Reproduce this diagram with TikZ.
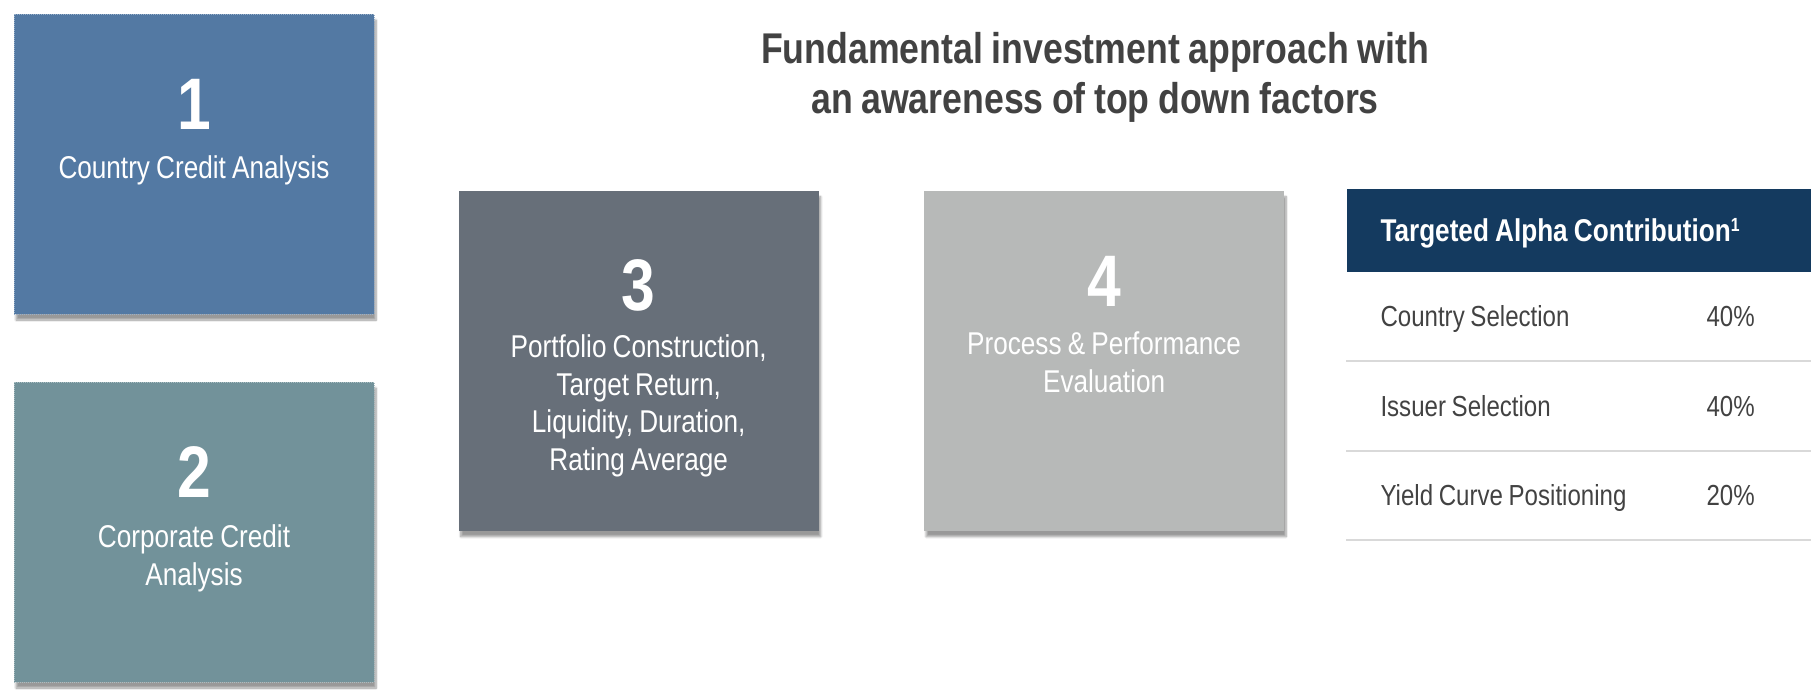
\documentclass[tikz,border=0pt]{standalone}
\usepackage{fontspec}
\setmainfont{Liberation Sans}[FakeStretch=0.83,WordSpace=0.85]
\usepackage{xcolor}
\usetikzlibrary{positioning,shadows.blur}
\definecolor{stblue}{HTML}{5379A3}
\definecolor{stteal}{HTML}{72929A}
\definecolor{stslate}{HTML}{676F79}
\definecolor{stgray}{HTML}{B7B9B8}
\definecolor{hdnavy}{HTML}{143A5F}
\definecolor{inkgray}{HTML}{424242}
\definecolor{rulegray}{HTML}{D9D9D9}
\newcommand{\supone}{\raisebox{10pt}{\fontsize{19}{20}\selectfont 1}}

\begin{document}
\begin{tikzpicture}[x=1pt,y=-1pt,node distance=67pt and 84pt,
  stage/.style={rectangle,inner sep=0pt,minimum width=360pt,minimum height=300pt,fill=#1,
                blur shadow={shadow xshift=2pt,shadow yshift=-6pt,shadow blur steps=8,shadow opacity=40}},
  rim/.style={draw=#1,densely dotted,line width=1pt},
  num/.style={anchor=base,inner sep=0pt,text=white,font=\fontsize{73}{80}\selectfont\bfseries},
  stxt/.style={anchor=base,inner sep=0pt,text=white,align=flush center,text width=340pt,
               font=\fontsize{31.5}{37.5}\selectfont},
  hdr/.style={rectangle,inner sep=0pt,minimum width=465pt,minimum height=83pt,fill=hdnavy},
  cell/.style={anchor=base west,inner sep=0pt,text=inkgray,font=\fontsize{29}{34}\selectfont},
  rule/.style={draw=rulegray,line width=2pt}]
  \useasboundingbox (0,0) rectangle (1811,691);

  % heading
  \node[anchor=base,inner sep=0pt,align=flush center,text width=800pt,text=inkgray,
        font=\fontsize{43}{50}\selectfont\bfseries] (ttl) at (1095,63)
    {Fundamental investment approach with\\an awareness of top down factors};

  % the four stages
  \node[stage=stblue,rim=stblue!60!white] (s1) at (194,164) {};
  \node[stage=stteal,rim=stteal!60!white,below=of s1] (s2) {};
  \node[stage=stslate,minimum height=340pt,below right=177pt and 84pt of s1.north east] (s3) {};
  \node[stage=stgray,minimum height=340pt,right=105pt of s3] (s4) {};

  \node[num] (n1) at ([yshift=-116pt]s1.north) {1};
  \node[num] (n2) at ([yshift=-116pt]s2.north) {2};
  \node[num] (n3) at ([yshift=-120pt]s3.north) {3};
  \node[num] (n4) at ([yshift=-116pt]s4.north) {4};
  \node[stxt] (l1) at ([yshift=-49pt]n1.base) {Country Credit Analysis};
  \node[stxt] (l2) at ([yshift=-50pt]n2.base) {Corporate Credit\\Analysis};
  \node[stxt] (l3) at ([yshift=-47pt]n3.base) {Portfolio Construction,\\Target Return,\\Liquidity, Duration,\\Rating Average};
  \node[stxt] (l4) at ([yshift=-48pt]n4.base) {Process \& Performance\\Evaluation};

  % alpha table
  \node[hdr,right=62pt of s4.north east,anchor=north west,yshift=2pt] (h) {};
  \node[cell,text=white,font=\fontsize{31.5}{36}\selectfont\bfseries] (ht)
    at ([xshift=34pt,yshift=-53pt]h.north west) {Targeted Alpha Contribution\supone};
  \foreach \name/\val [count=\i] in {Country Selection/40\%,Issuer Selection/40\%,Yield Curve Positioning/20\%} {
    \node[cell] (r\i) at ([xshift=34pt,yshift={-55pt-89.5pt*(\i-1)}]h.south west) {\name};
    \node[cell] (v\i) at ([xshift=326pt]r\i.base west) {\val};
    \draw[rule] ([yshift={-89.5pt*\i}]h.south west) -- ([yshift={-89.5pt*\i}]h.south east);
  }
\end{tikzpicture}
\end{document}
